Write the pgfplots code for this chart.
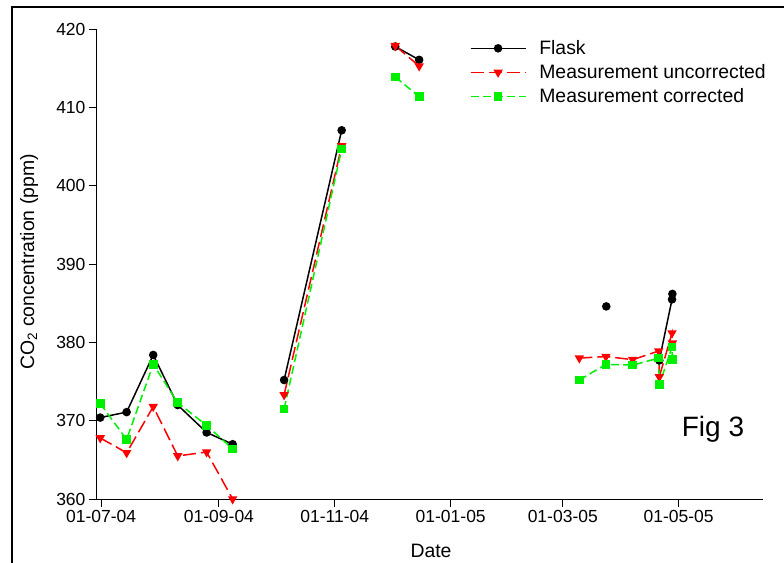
\documentclass[border=0pt]{standalone}
\usepackage{fontspec}
\setmainfont{Liberation Sans}
\usepackage{pgfplots}
\pgfplotsset{compat=1.18}
\definecolor{cgreen}{RGB}{0,240,0}
\definecolor{cred}{RGB}{255,0,0}
\begin{document}
\begin{tikzpicture}[x=1pt,y=1pt]
\useasboundingbox (0,0) rectangle (784,562);
\begin{axis}[
  at={(97pt,63pt)}, anchor=south west, scale only axis,
  width=666pt, height=469.7pt,
  xmin=-2.2, xmax=348.4, ymin=360, ymax=420,
  axis x line*=bottom, axis y line*=left,
  axis line style={line width=1pt, -},
  tick align=outside, major tick length=8pt,
  tick style={line width=1pt, black},
  xtick={0,62,123,184,243,304},
  xticklabels={01-07-04,01-09-04,01-11-04,01-01-05,01-03-05,01-05-05},
  ytick={360,370,380,390,400,410,420},
  minor tick num=0,
  /pgf/number format/assume math mode=true,
  ticklabel style={font=\fontsize{17.5}{20}\selectfont},
  label style={font=\fontsize{19.4}{23}\selectfont},
  xlabel={Date},
  ylabel={CO\textsubscript{2} concentration (ppm)},
  xlabel style={at={(axis description cs:0.5015,-0.1107)}, anchor=center},
  ylabel style={at={(axis description cs:-0.102,0.505)}, anchor=center},
  unbounded coords=jump,
  legend cell align=left,
  legend style={draw=none, fill=none, at={(axis description cs:0.555,0.985)}, anchor=north west,
    font=\fontsize{19.4}{23}\selectfont, row sep=4.5pt,
    /tikz/every odd column/.append style={column sep=11pt}},
  legend image code/.code={\draw[mark repeat=2, mark phase=2, line width=1.5pt, #1] plot coordinates {(0pt,0pt) (27.5pt,0pt) (55pt,0pt)};},
]
\addplot[black, line width=1.5pt, mark=*, mark size=3.5pt, mark options={solid}] coordinates {
(-0.5,370.4) (13.4,371.1) (27.4,378.4) (40.3,372.0) (55.5,368.5) (69.2,367.0) (80,nan)
(96.3,375.2) (126.6,407.1) (140,nan)
(154.8,417.8) (167.4,416.1) (200,nan)
(265.9,384.6) (280,nan)
(293.8,377.7) (300.5,385.5) (300.7,386.2)
};
\addlegendentry{Flask}
\addplot[cred, line width=1.5pt, dash pattern=on 13pt off 5pt, mark=triangle*, mark size=4pt, mark options={solid, rotate=180}] coordinates {
(-0.5,367.8) (13.4,365.9) (27.4,371.8) (40.3,365.5) (55.5,366.0) (69.2,360.0) (80,nan)
(96.3,373.3) (126.6,405.1) (140,nan)
(154.8,417.9) (167.4,415.3) (200,nan)
(251.7,378.0) (265.7,378.2) (279.8,377.8) (293.5,378.9) (293.8,375.6) (300.5,381.2) (300.7,379.9)
};
\addlegendentry{Measurement uncorrected}
\addplot[cgreen, line width=1.5pt, dash pattern=on 8pt off 4pt, mark=square*, mark size=3.6pt, mark options={solid}] coordinates {
(-0.5,372.2) (13.4,367.6) (27.4,377.2) (40.3,372.3) (55.5,369.4) (69.2,366.4) (80,nan)
(96.3,371.5) (126.6,404.7) (140,nan)
(154.8,413.9) (167.4,411.4) (200,nan)
(251.7,375.2) (265.7,377.2) (279.8,377.1) (293.5,378.0) (293.8,374.6) (300.5,379.4) (300.7,377.8)
};
\addlegendentry{Measurement corrected}
\end{axis}
\draw[line width=2pt] (12,-20) -- (12,555) -- (800,555);
\node[font=\fontsize{28}{32}\selectfont] at (713,133) {Fig 3};
\end{tikzpicture}
\end{document}
